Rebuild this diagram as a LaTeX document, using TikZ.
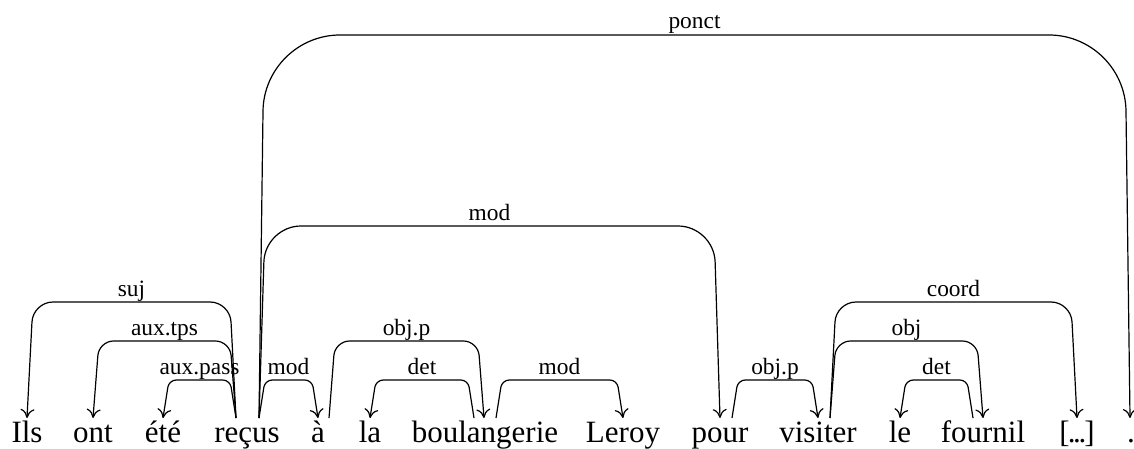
\documentclass[tikz,border=0pt]{standalone}
\usepackage{fontspec}
\setmainfont{Liberation Serif}
\usetikzlibrary{arrows.meta,calc}
\tikzset{
  word/.style={anchor=base, inner sep=0pt, font=\fontsize{15.5}{18}\selectfont},
  deplabel/.style={anchor=base, inner sep=0pt, font=\fontsize{11.7}{14}\selectfont},
  depedge/.style={line width=0.6pt, -{To[length=4.5pt,width=7pt]}},
}
\begin{document}
\begin{tikzpicture}[x=0.5pt,y=-0.5pt]
\useasboundingbox (0,0) rectangle (1134,449);
% words
\node[word] (w1) at (27,442) {Ils};
\node[word] (w2) at (93,442) {ont};
\node[word] (w3) at (163,442) {été};
\node[word] (w4) at (247,442) {reçus};
\node[word] (w5) at (318,442) {à};
\node[word] (w6) at (370,442) {la};
\node[word] (w7) at (485,442) {boulangerie};
\node[word] (w8) at (623,442) {Leroy};
\node[word] (w9) at (720,442) {pour};
\node[word] (w10) at (818,442) {visiter};
\node[word] (w11) at (900,442) {le};
\node[word] (w12) at (983,442) {fournil};
\node[word] (w13) at (1077,442) {[\kern-1pt.\kern-1.2pt.\kern-1.2pt.\kern-1pt]};
\node[word] (w14) at (1131,442) {.};
% edge end points
\coordinate (r4L) at ($(w4.base)+(-11,-24)$);
\coordinate (r4R) at ($(w4.base)+(12,-24)$);
\coordinate (t1) at ($(w1.base)+(0,-24)$);
\coordinate (t2) at ($(w2.base)+(0,-24)$);
\coordinate (t3) at ($(w3.base)+(0,-24)$);
\coordinate (t5) at ($(w5.base)+(0,-24)$);
\coordinate (s5) at ($(w5.base)+(11,-24)$);
\coordinate (t6) at ($(w6.base)+(0,-24)$);
\coordinate (t7) at ($(w7.base)+(-1,-24)$);
\coordinate (s7L) at ($(w7.base)+(-11,-24)$);
\coordinate (s7R) at ($(w7.base)+(11,-24)$);
\coordinate (t8) at ($(w8.base)+(0,-24)$);
\coordinate (t9) at ($(w9.base)+(0,-24)$);
\coordinate (s9) at ($(w9.base)+(12,-24)$);
\coordinate (t10) at ($(w10.base)+(0,-24)$);
\coordinate (s10) at ($(w10.base)+(12,-24)$);
\coordinate (t11) at ($(w11.base)+(0,-24)$);
\coordinate (t12) at ($(w12.base)+(0,-24)$);
\coordinate (s12) at ($(w12.base)+(-10,-24)$);
\coordinate (t13) at ($(w13.base)+(0,-24)$);
\coordinate (t14) at ($(w14.base)+(-1,-24)$);

% suj
\draw[depedge, rounded corners=10pt] (r4L) -- ($(r4L|-0,302)+(-6,0)$) -- ($(t1|-0,302)+(6,0)$) -- (t1);
\node[deplabel] (l1) at ($(r4L)!0.5!(t1)+(0,-122)$) {suj};
% aux.tps
\draw[depedge, rounded corners=7.3pt] (r4L) -- ($(r4L|-0,341)+(-6,0)$) -- ($(t2|-0,341)+(6,0)$) -- (t2);
\node[deplabel] (l2) at ($(r4L)!0.5!(t2)+(0,-83)$) {aux.tps};
% aux.pass
\draw[depedge, rounded corners=3.6pt] (r4L) -- ($(r4L|-0,380)+(-6,0)$) -- ($(t3|-0,380)+(6,0)$) -- (t3);
\node[deplabel] (l3) at ($(r4L)!0.5!(t3)+(0,-44)$) {aux.pass};
% mod reçus -> à
\draw[depedge, rounded corners=3.6pt] (r4R) -- ($(r4R|-0,380)+(6,0)$) -- ($(t5|-0,380)+(-6,0)$) -- (t5);
\node[deplabel] (l4) at ($(r4R)!0.5!(t5)+(0,-44)$) {mod};
% mod reçus -> pour
\draw[depedge, rounded corners=18pt] (r4R) -- ($(r4R|-0,226)+(6,0)$) -- ($(t9|-0,226)+(-6,0)$) -- (t9);
\node[deplabel] (l5) at ($(r4R)!0.5!(t9)+(0,-198)$) {mod};
% ponct
\draw[depedge, rounded corners=38pt] (r4R) -- ($(r4R|-0,35)+(5,0)$) -- ($(t14|-0,35)+(-5,0)$) -- (t14);
\node[deplabel] (l6) at ($(r4R)!0.5!(t14)+(0,-389)$) {ponct};
% obj.p à -> boulangerie
\draw[depedge, rounded corners=7.3pt] (s5) -- ($(s5|-0,341)+(6,0)$) -- ($(t7|-0,341)+(-6,0)$) -- (t7);
\node[deplabel] (l7) at ($(s5)!0.5!(t7)+(0,-83)$) {obj.p};
% det boulangerie -> la
\draw[depedge, rounded corners=3.6pt] (s7L) -- ($(s7L|-0,380)+(-6,0)$) -- ($(t6|-0,380)+(6,0)$) -- (t6);
\node[deplabel] (l8) at ($(s7L)!0.5!(t6)+(0,-44)$) {det};
% mod boulangerie -> Leroy
\draw[depedge, rounded corners=3.6pt] (s7R) -- ($(s7R|-0,380)+(6,0)$) -- ($(t8|-0,380)+(-6,0)$) -- (t8);
\node[deplabel] (l9) at ($(s7R)!0.5!(t8)+(0,-44)$) {mod};
% obj.p pour -> visiter
\draw[depedge, rounded corners=3.6pt] (s9) -- ($(s9|-0,380)+(6,0)$) -- ($(t10|-0,380)+(-6,0)$) -- (t10);
\node[deplabel] (l10) at ($(s9)!0.5!(t10)+(0,-44)$) {obj.p};
% coord visiter -> [...]
\draw[depedge, rounded corners=10pt] (s10) -- ($(s10|-0,302)+(6,0)$) -- ($(t13|-0,302)+(-6,0)$) -- (t13);
\node[deplabel] (l11) at ($(s10)!0.5!(t13)+(0,-122)$) {coord};
% obj visiter -> fournil
\draw[depedge, rounded corners=7.3pt] (s10) -- ($(s10|-0,341)+(6,0)$) -- ($(t12|-0,341)+(-6,0)$) -- (t12);
\node[deplabel] (l12) at ($(s10)!0.5!(t12)+(0,-83)$) {obj};
% det fournil -> le
\draw[depedge, rounded corners=3.6pt] (s12) -- ($(s12|-0,380)+(-6,0)$) -- ($(t11|-0,380)+(6,0)$) -- (t11);
\node[deplabel] (l13) at ($(s12)!0.5!(t11)+(0,-44)$) {det};
\end{tikzpicture}
\end{document}
